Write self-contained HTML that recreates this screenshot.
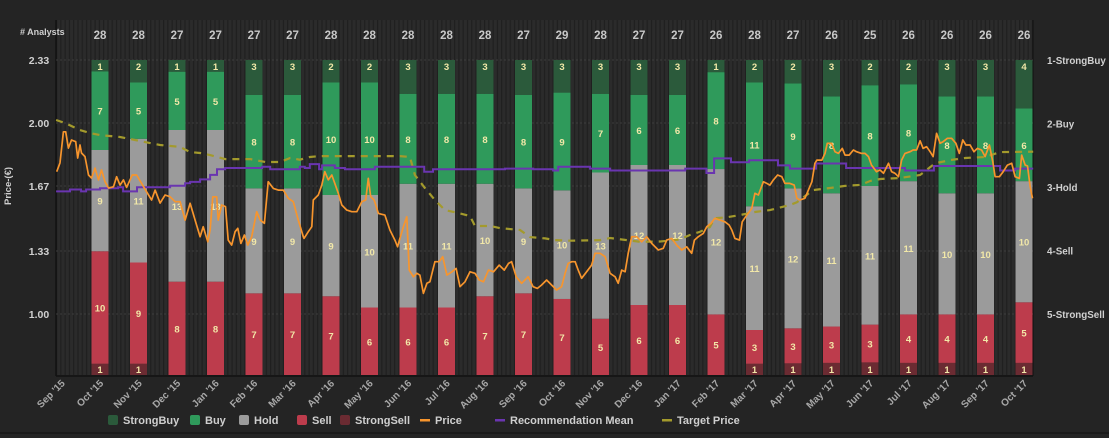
<!DOCTYPE html>
<html><head><meta charset="utf-8"><style>
html,body{margin:0;padding:0;background:#242424;}
svg{display:block;font-family:"Liberation Sans",Arial,sans-serif;font-weight:bold;}
</style></head><body>
<svg id="chart" width="1109" height="438" viewBox="0 0 1109 438">
<defs>
<pattern id="stripes" x="56" y="0" width="4.28" height="10" patternUnits="userSpaceOnUse">
<rect width="4.28" height="10" fill="#2b2b2b"/><rect width="1.2" height="10" fill="#1f1f1f"/>
</pattern>
</defs>
<rect x="0" y="0" width="1109" height="438" fill="#242424"/>
<rect x="56" y="20" width="977" height="355" fill="url(#stripes)"/>
<line x1="56" y1="20" x2="56" y2="376" stroke="#111" stroke-width="1.5"/>
<line x1="1033" y1="20" x2="1033" y2="376" stroke="#111" stroke-width="1"/>
<line x1="56" y1="376" x2="1033" y2="376" stroke="#111" stroke-width="1.5"/>
<line x1="0" y1="433" x2="1109" y2="433" stroke="#1a1a1a" stroke-width="2"/>
<g id="grid"></g><g id="bars"></g><g id="lines"></g><g id="axes"></g><g id="legend"></g>
<text x="20" y="35" font-size="9" fill="#cfcfcf"># Analysts</text>
<text transform="translate(11,186) rotate(-90)" text-anchor="middle" font-size="9.5" fill="#cfcfcf">Price-(€)</text>
</svg>
<script>
const months = ["Sep '15","Oct '15","Nov '15","Dec '15","Jan '16","Feb '16","Mar '16","Apr '16","May '16","Jun '16","Jul '16","Aug '16","Sep '16","Oct '16","Nov '16","Dec '16","Jan '17","Feb '17","Mar '17","Apr '17","May '17","Jun '17","Jul '17","Aug '17","Sep '17","Oct '17"];
const strongBuy = [1,2,1,1,3,3,2,2,3,3,3,3,3,3,3,3,1,2,2,3,2,2,3,3,4];
const buy = [7,5,5,5,8,8,10,10,8,8,8,8,9,7,6,6,8,11,9,8,8,8,8,8,6];
const hold = [9,11,13,13,9,9,9,10,11,11,10,9,10,13,12,12,12,11,12,11,11,11,10,10,10];
const sell = [10,9,8,8,7,7,7,6,6,6,7,7,7,5,6,6,5,3,3,3,3,4,4,4,5];
const strongSell = [1,1,0,0,0,0,0,0,0,0,0,0,0,0,0,0,0,1,1,1,1,1,1,1,1];
const priceTicks = [2.33,2.00,1.67,1.33,1.00];
const recTicks = ["1-StrongBuy","2-Buy","3-Hold","4-Sell","5-StrongSell"];
const priceT = [-0.125,-0.04,0.05,0.11,0.18,0.26,0.37,0.42,0.48,0.52,0.61,0.70,0.78,0.87,0.96,1.04,1.13,1.22,1.35,1.43,1.52,1.61,1.69,1.84,1.95,2.08,2.21,2.34,2.43,2.56,2.69,2.82,2.95,3.08,3.21,3.34,3.47,3.60,3.68,3.80,3.86,3.93,4.03,4.07,4.16,4.26,4.33,4.42,4.51,4.58,4.66,4.75,4.84,4.94,5.07,5.16,5.27,5.37,5.50,5.63,5.76,5.89,6.02,6.15,6.28,6.30,6.41,6.50,6.54,6.67,6.76,6.84,6.93,7.02,7.10,7.19,7.28,7.41,7.54,7.67,7.80,7.90,7.97,8.03,8.12,8.23,8.40,8.53,8.66,8.73,8.79,8.88,8.97,9.03,9.14,9.23,9.31,9.40,9.49,9.57,9.70,9.81,9.90,10.01,10.14,10.25,10.35,10.48,10.61,10.74,10.85,10.96,11.09,11.22,11.37,11.50,11.61,11.69,11.81,11.95,12.12,12.25,12.36,12.47,12.60,12.73,12.86,12.99,13.08,13.16,13.25,13.34,13.42,13.51,13.64,13.77,13.86,13.99,14.12,14.25,14.38,14.46,14.55,14.64,14.72,14.81,14.94,15.07,15.20,15.33,15.50,15.63,15.72,15.85,15.98,16.11,16.24,16.37,16.44,16.54,16.67,16.76,16.87,16.97,17.10,17.23,17.34,17.41,17.49,17.61,17.68,17.80,17.93,18.01,18.10,18.23,18.32,18.40,18.49,18.60,18.71,18.79,18.92,19.03,19.10,19.18,19.31,19.40,19.49,19.57,19.62,19.75,19.83,19.89,20.00,20.09,20.18,20.28,20.35,20.46,20.57,20.65,20.78,20.87,20.96,21.04,21.17,21.26,21.35,21.48,21.56,21.65,21.74,21.82,21.91,22.04,22.12,22.21,22.30,22.38,22.47,22.56,22.64,22.73,22.82,22.90,23.01,23.12,23.23,23.32,23.41,23.49,23.60,23.70,23.79,23.90,23.99,24.10,24.19,24.25,24.36,24.46,24.57,24.68,24.77,24.88,24.94,25.03,25.09,25.16,25.22];
const priceV = [1.745,1.791,1.954,1.954,1.869,1.911,1.902,1.817,1.885,1.843,1.824,1.728,1.712,1.764,1.702,1.754,1.693,1.660,1.666,1.719,1.675,1.702,1.663,1.728,1.728,1.684,1.640,1.597,1.649,1.581,1.623,1.614,1.588,1.588,1.492,1.580,1.492,1.405,1.457,1.378,1.440,1.614,1.614,1.492,1.571,1.562,1.387,1.361,1.431,1.449,1.370,1.414,1.361,1.405,1.536,1.492,1.475,1.693,1.658,1.649,1.649,1.606,1.588,1.492,1.405,1.396,1.431,1.457,1.597,1.623,1.675,1.745,1.702,1.728,1.684,1.632,1.571,1.544,1.536,1.536,1.588,1.597,1.710,1.614,1.597,1.527,1.518,1.440,1.387,1.352,1.396,1.457,1.509,1.230,1.195,1.213,1.204,1.108,1.161,1.169,1.274,1.274,1.300,1.204,1.221,1.239,1.143,1.169,1.221,1.213,1.178,1.169,1.230,1.221,1.256,1.230,1.265,1.274,1.195,1.161,1.195,1.143,1.134,1.152,1.178,1.152,1.126,1.143,1.213,1.265,1.274,1.274,1.230,1.187,1.221,1.256,1.318,1.318,1.300,1.213,1.195,1.161,1.230,1.221,1.318,1.405,1.405,1.378,1.405,1.370,1.335,1.344,1.387,1.396,1.361,1.335,1.352,1.318,1.387,1.405,1.422,1.457,1.475,1.501,1.492,1.483,1.466,1.440,1.396,1.387,1.483,1.518,1.553,1.632,1.623,1.693,1.684,1.675,1.702,1.728,1.719,1.684,1.684,1.675,1.606,1.597,1.606,1.649,1.693,1.789,1.806,1.806,1.841,1.894,1.894,1.850,1.841,1.867,1.832,1.832,1.859,1.850,1.841,1.841,1.824,1.780,1.745,1.754,1.737,1.789,1.745,1.737,1.719,1.806,1.841,1.850,1.859,1.859,1.907,1.867,1.876,1.850,1.824,1.946,1.894,1.902,1.920,1.920,1.894,1.841,1.911,1.885,1.885,1.850,1.867,1.859,1.824,1.885,1.797,1.719,1.719,1.745,1.780,1.789,1.719,1.710,1.832,1.780,1.775,1.666,1.606];
const recT = [-0.14,0.22,0.51,0.64,1.0,1.47,1.60,1.96,2.82,3.21,3.34,3.60,3.86,4.04,4.25,5.21,5.42,6.19,6.32,6.45,6.69,6.77,7.10,7.36,8.14,9.42,9.65,11.52,12.25,12.77,12.90,13.73,14.25,16.20,16.75,16.95,17.39,17.86,18.61,18.92,19.60,20.38,21.91,22.66,24.38,24.77,25.24];
const recV = [3.07,3.04,3.07,3.04,3.02,3.005,3.07,3.005,2.98,2.94,2.92,2.88,2.81,2.72,2.70,2.68,2.72,2.68,2.70,2.64,2.72,2.66,2.70,2.72,2.68,2.76,2.72,2.71,2.72,2.74,2.68,2.71,2.74,2.71,2.78,2.55,2.61,2.58,2.66,2.71,2.63,2.70,2.74,2.67,2.74,2.71,2.71];
const targetT = [-0.14,0.09,0.48,0.74,1.0,1.52,1.91,2.30,2.56,3.08,3.34,3.60,3.86,4.25,4.90,5.29,5.68,5.94,6.19,6.45,6.71,8.79,9.05,9.18,9.44,9.70,9.96,10.35,10.61,10.74,11.13,11.39,11.91,12.17,12.56,12.82,13.21,13.99,14.25,15.03,15.55,16.06,16.32,16.58,16.84,16.97,17.23,17.62,18.01,18.40,18.92,19.10,19.52,19.96,20.35,20.75,21.01,21.27,21.78,22.30,22.69,23.08,23.47,23.99,24.38,25.24];
const targetV = [2.016,2.00,1.963,1.948,1.937,1.927,1.911,1.895,1.885,1.875,1.848,1.843,1.832,1.811,1.811,1.796,1.796,1.817,1.808,1.822,1.827,1.827,1.822,1.728,1.660,1.597,1.544,1.527,1.513,1.461,1.461,1.450,1.440,1.403,1.396,1.387,1.384,1.387,1.398,1.378,1.380,1.390,1.414,1.430,1.455,1.502,1.505,1.518,1.534,1.544,1.571,1.585,1.649,1.660,1.671,1.676,1.697,1.707,1.712,1.728,1.789,1.806,1.817,1.822,1.848,1.850];

const NS="http://www.w3.org/2000/svg";
const x0=61.5, mw=38.5, yTop=60, yBot=375;
const xS = t => x0 + t*mw;
const yP = p => yTop + (2.33-p)*191;
const yR = r => yTop + (r-1)*63.5;
function mk(tag, attrs, parent){const e=document.createElementNS(NS,tag);for(const k in attrs)e.setAttribute(k,attrs[k]);parent.appendChild(e);return e;}
const gGrid=document.getElementById('grid'), gBars=document.getElementById('bars'), gLines=document.getElementById('lines'), gAxes=document.getElementById('axes'), gLeg=document.getElementById('legend');

priceTicks.forEach((p,i)=>{
  const ln=mk('line',{x1:56,x2:1033,y1:yP(p),y2:yP(p),stroke:'#3c3c3c','stroke-dasharray':'2,2'},gGrid);
  
  
  const t=mk('text',{x:39,y:yP(p)+4,'text-anchor':'middle','font-size':10.5,fill:'#d0d0d0'},gAxes);
  t.textContent=p.toFixed(2);
  
  
});
recTicks.forEach((r,i)=>{
  const t=mk('text',{x:1047,y:yR(i+1)+4,'font-size':9.8,fill:'#d0d0d0'},gAxes);
  t.textContent=r;
  
  
});
months.forEach((m,i)=>{
  const x=xS(i);
  const t=mk('text',{x:0,y:0,'text-anchor':'end','font-size':10,fill:'#a8a8a8',transform:`translate(${x+4},${384}) rotate(-45)`},gAxes);
  t.textContent=m;
  
  
});

const segs=[{arr:strongSell,c:'#6b2b32',n:'strongsell'},{arr:sell,c:'#bd3c4c',n:'sell'},{arr:hold,c:'#9b9b9b',n:'hold'},{arr:buy,c:'#2f9a5b',n:'buy'},{arr:strongBuy,c:'#2b5a3b',n:'strongbuy'}];
const bw=17;
strongBuy.forEach((_,i)=>{
  const total=strongBuy[i]+buy[i]+hold[i]+sell[i]+strongSell[i];
  const cx=xS(i+1);
  let y=yBot;
  segs.forEach(s=>{
    const v=s.arr[i]; if(!v) return;
    const h=v/total*(yBot-yTop);
    const r=mk('rect',{x:cx-bw/2,y:y-h,width:bw,height:h,fill:s.c},gBars);
    
    
    const t=mk('text',{x:cx,y:(s.n==='strongsell'||s.n==='strongbuy')?(s.n==='strongsell'?yBot-2:yTop+10):y-h/2+4,'text-anchor':'middle','font-size':9.5,fill:'#f2e8a8'},gBars);
    t.textContent=v;
    
    
    y-=h;
  });
  const c=mk('text',{x:cx,y:39,'text-anchor':'middle','font-size':11.5,fill:'#c8c8c8'},gAxes);
  c.textContent=total;
  
  
});

let dT=targetT.map((t,i)=>(i?'L':'M')+xS(t).toFixed(1)+','+yP(targetV[i]).toFixed(1)).join('');
const tp=mk('path',{d:dT,fill:'none',stroke:'#a39a2c','stroke-width':2.2,'stroke-dasharray':'7,6'},gLines);


let dR='';
recT.forEach((t,i)=>{const x=xS(t).toFixed(1), y=yR(recV[i]).toFixed(1); if(i===0) dR+='M'+x+','+y; else dR+='L'+x+','+yR(recV[i-1]).toFixed(1)+'L'+x+','+y;});
const rp=mk('path',{d:dR,fill:'none',stroke:'#6a35b0','stroke-width':2},gLines);


let dP=priceT.map((t,i)=>(i?'L':'M')+xS(t).toFixed(1)+','+yP(priceV[i]).toFixed(1)).join('');
const pp=mk('path',{d:dP,fill:'none',stroke:'#f7952d','stroke-width':1.7,'stroke-linejoin':'round'},gLines);



const legend=[{t:'StrongBuy',c:'#2b5a3b',x:108,k:'box'},{t:'Buy',c:'#2f9a5b',x:190,k:'box'},{t:'Hold',c:'#9b9b9b',x:239,k:'box'},{t:'Sell',c:'#bd3c4c',x:297,k:'box'},{t:'StrongSell',c:'#6b2b32',x:340,k:'box'},{t:'Price',c:'#f7952d',x:420,k:'line'},{t:'Recommendation Mean',c:'#6a35b0',x:495,k:'line'},{t:'Target Price',c:'#a39a2c',x:662,k:'line'}];
legend.forEach(l=>{
  const g=mk('g',{},gLeg);
  
  
  if(l.k==='box') mk('rect',{x:l.x,y:415,width:10,height:10,rx:2,fill:l.c},g);
  else mk('rect',{x:l.x,y:419,width:10,height:2.5,fill:l.c},g);
  const t=mk('text',{x:l.x+15,y:424,'font-size':11,fill:'#cfcfcf'},g);
  t.textContent=l.t;
});
</script>
</body></html>
